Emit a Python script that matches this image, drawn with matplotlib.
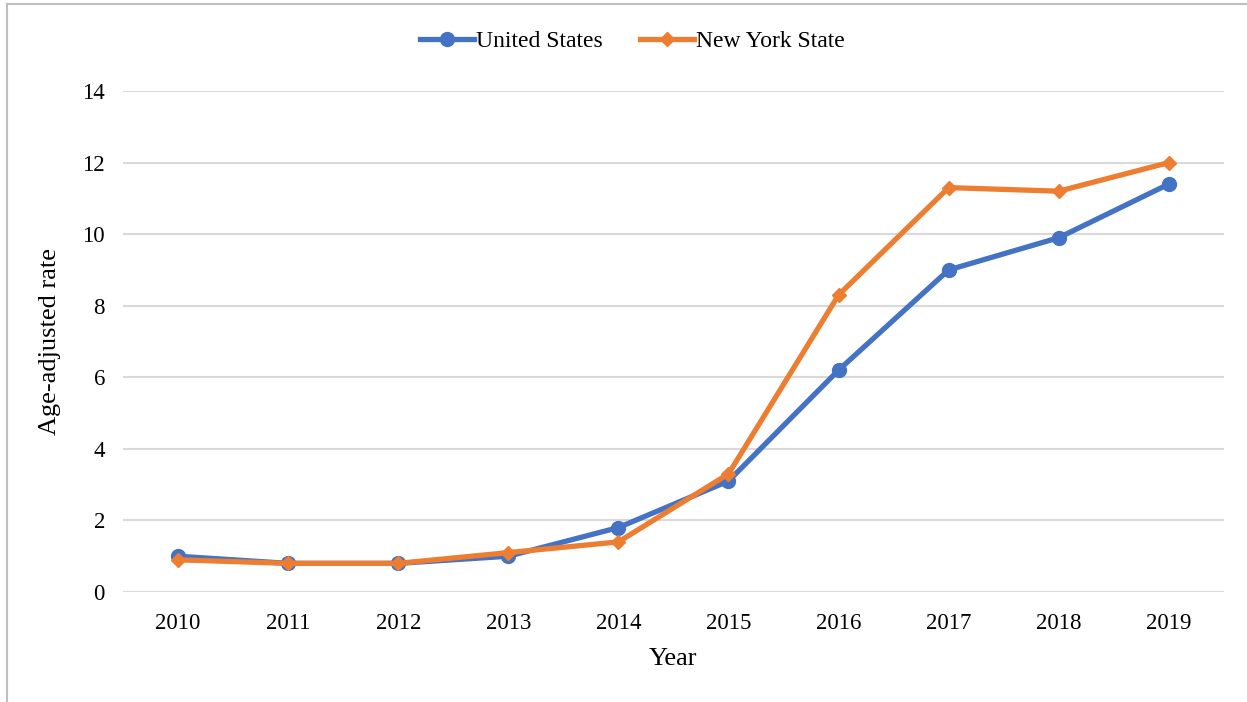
import matplotlib.pyplot as plt
from matplotlib.lines import Line2D

years = ["2010", "2011", "2012", "2013", "2014", "2015", "2016", "2017", "2018", "2019"]
us_rate = [1.0, 0.8, 0.8, 1.0, 1.8, 3.1, 6.2, 9.0, 9.9, 11.4]
ny_rate = [0.9, 0.8, 0.8, 1.1, 1.4, 3.3, 8.3, 11.3, 11.2, 12.0]
y_ticks = [0, 2, 4, 6, 8, 10, 12, 14]

plt.rcParams['font.family'] = ['Liberation Serif', 'DejaVu Serif']

fig = plt.figure(figsize=(12.47, 7.02), dpi=100)
ax = fig.add_axes([0.0986, 0.1567, 0.8829, 0.7137])

x = list(range(len(years)))
ax.plot(x, us_rate, color='#4472C4', lw=3.8, marker='o', ms=10, label='United States', zorder=3)
ax.plot(x, ny_rate, color='#ED7D31', lw=3.8, marker='D', ms=7.5, label='New York State', zorder=4)

ax.set_xlim(-0.5, len(years) - 0.5)
ax.set_ylim(0, 14)
ax.set_xticks(x)
ax.set_xticklabels(years)
ax.set_yticks(y_ticks)
ax.tick_params(length=0, labelsize=16.5)
ax.tick_params(axis='x', pad=15)
ax.tick_params(axis='y', pad=13)
ax.grid(axis='y', color='#D9D9D9', lw=1.5)
ax.set_axisbelow(True)
for s in ax.spines.values():
    s.set_visible(False)

ax.set_xlabel('Year', fontsize=19, labelpad=10)
ax.set_ylabel('Age-adjusted rate', fontsize=19, labelpad=15)

fig.legend(loc='center', bbox_to_anchor=(0.507, 0.941), ncol=2, frameon=False,
           fontsize=17, handlelength=2.3, handletextpad=0.05, columnspacing=1.6)

# outer frame
fig.add_artist(Line2D([0.006, 0.006], [0.0, 0.994], transform=fig.transFigure, color='#BFBFBF', lw=1.5))
fig.add_artist(Line2D([0.006, 1.0], [0.994, 0.994], transform=fig.transFigure, color='#BFBFBF', lw=1.5))

fig.savefig('out.png', dpi=100)
